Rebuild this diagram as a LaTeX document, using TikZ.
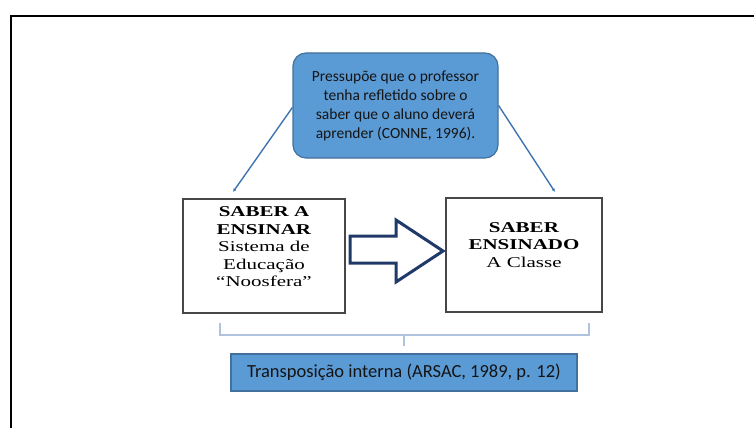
\documentclass[tikz,border=0pt]{standalone}
\usepackage{fontspec}
\usetikzlibrary{arrows.meta}
\newfontfamily\calfont{Carlito}
\newfontfamily\tmsfont[FakeStretch=1.4]{Liberation Serif}
\definecolor{boxblue}{HTML}{5B9BD5}
\definecolor{boxedge}{HTML}{41719C}
\definecolor{linkblue}{HTML}{3E75B0}
\definecolor{navy}{HTML}{1F3A68}
\definecolor{bracketc}{HTML}{AFC3DE}
\definecolor{txt}{HTML}{141414}
\tikzset{
  bluebox/.style={draw=boxedge, line width=1.2pt, fill=boxblue, text=txt, align=center, inner sep=0pt},
  whitebox/.style={draw=black!72, line width=1.6pt, fill=white, inner sep=0pt},
  serift/.style={align=center, text=black, font=\tmsfont\fontsize{15}{17.5}\selectfont, inner sep=0pt},
  link/.style={draw=linkblue, line width=1.4pt, -{Latex[length=3.5pt,width=3.5pt]}},
  brk/.style={draw=bracketc, line width=1.3pt},
  bigarrow/.style={draw=navy, line width=3pt, fill=white, line join=miter}
}
\begin{document}
\begin{tikzpicture}[x=1pt,y=-1pt]
\useasboundingbox (0,0) rectangle (754,428);
% frame
\draw[line width=2.4pt, black] (754,16) -- (11,16) -- (11,428);
% top rounded box
\node[bluebox, rounded corners=13pt, minimum width=205pt, minimum height=105pt,
      font=\calfont\fontsize{15.5}{19}\selectfont] (top) at (395.5,105.5)
  {Pressupõe que o professor\\tenha refletido sobre o\\saber que o aluno deverá\\aprender (CONNE, 1996).};
% white boxes
\node[whitebox, minimum width=162pt, minimum height=114pt] (lbox) at (264,256) {};
\node[whitebox, minimum width=156pt, minimum height=114pt] (rbox) at (524,255) {};
\node[serift] (ltext) at (264,247) {\textbf{SABER A}\\\textbf{ENSINAR}\\Sistema de\\Educação\\“Noosfera”};
\node[serift] (rtext) at (524,245) {\textbf{SABER}\\\textbf{ENSINADO}\\A Classe};
% connectors
\coordinate (lend) at (233,192);
\coordinate (rend) at (555,192);
\draw[link] ([yshift=-2pt]top.west) -- (lend);
\draw[link] (top.east) -- (rend);
% block arrow
\draw[bigarrow] (350,236) -- (396,236) -- (396,220) -- (443,251) -- (396,282) -- (396,263) -- (350,263) -- cycle;
% bracket
\coordinate (bl) at (220,323);
\coordinate (br) at (589,323);
\coordinate (bm) at (404,335);
\draw[brk] (bl) -- (220,335) -- (589,335) -- (br);
\draw[brk] (bm) -- (404,346);
% bottom box
\node[bluebox, minimum width=346pt, minimum height=37pt,
      font=\calfont\fontsize{18.5}{20}\selectfont] (bot) at (404,372.5)
  {Transposição interna (ARSAC, 1989, p. 12)};
\end{tikzpicture}
\end{document}
